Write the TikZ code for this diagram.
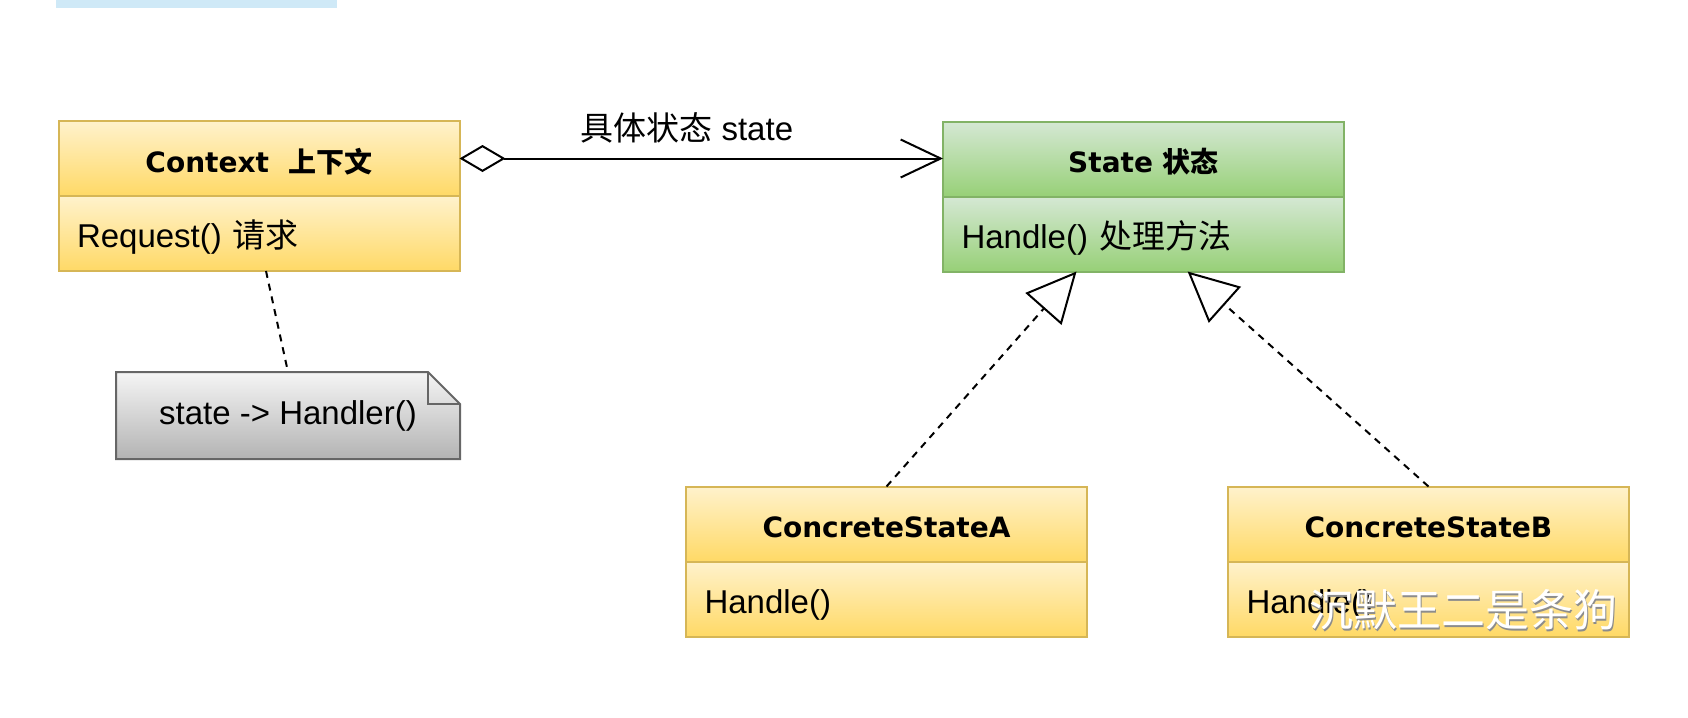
\documentclass[tikz,border=0pt]{standalone}
\usepackage{fontspec}
\setmainfont{Liberation Sans}
\newfontfamily\hdfont{DejaVu Sans}
\newfontfamily\cjkfont{Noto Sans CJK SC}
\newcommand{\zh}[1]{{\cjkfont #1}}
\usetikzlibrary{
  arrows.meta,
  positioning,
  calc,
  backgrounds
}
\definecolor{umlyellowtop}{HTML}{FFF2CC}
\definecolor{umlyellowbot}{HTML}{FFD966}
\definecolor{umlyellowline}{HTML}{D6B656}
\definecolor{umlgreentop}{HTML}{D5E8D4}
\definecolor{umlgreenbot}{HTML}{97D077}
\definecolor{umlgreenline}{HTML}{82B366}
\definecolor{umlgraytop}{HTML}{F5F5F5}
\definecolor{umlgraybot}{HTML}{B3B3B3}
\definecolor{umlgrayline}{HTML}{666666}
\definecolor{topbarblue}{HTML}{CFE9F7}

\begin{document}
\begin{tikzpicture}[
  x=0.5pt, y=-0.5pt,
  classhead/.style={draw, line width=1pt, minimum width=200.5pt, minimum height=37.5pt,
    inner sep=0pt, outer sep=0pt, text height=13.5pt, text depth=0pt,
    font=\hdfont\bfseries\fontsize{14}{16}\selectfont},
  classbody/.style={draw, line width=1pt, minimum height=37.5pt, text width=182pt,
    inner xsep=9.25pt, inner ysep=0pt, outer sep=0pt, align=left,
    text height=15.5pt, text depth=1.5pt, font=\fontsize{16.5}{19}\selectfont},
  yellowbox/.style={draw=umlyellowline, top color=umlyellowtop, bottom color=umlyellowbot},
  greenbox/.style={draw=umlgreenline, top color=umlgreentop, bottom color=umlgreenbot},
  notetext/.style={minimum width=172pt, minimum height=43.5pt, outer sep=0pt,
    font=\fontsize{16.5}{19}\selectfont},
  notebox/.style={draw=umlgrayline, line width=1pt, top color=umlgraytop, bottom color=umlgraybot},
  assoc/.style={line width=1pt,
    {Diamond[open, length=23pt, width=13.5pt]}-{Straight Barb[length=20pt, width=19pt]}},
  realize/.style={line width=1pt, dash pattern=on 3.5pt off 3pt,
    -{Triangle[length=25pt, width=24pt, fill=white]}},
  notelink/.style={line width=1pt, dash pattern=on 3.5pt off 3pt},
  watermark/.style={font=\fontsize{22}{24}\selectfont, inner sep=0pt}
]
  \useasboundingbox (0,0) rectangle (1688,718);
  \fill[topbarblue] (56,0) rectangle (337,8);

  % context
  \node[classhead, yellowbox] (ctx) at (259,158.5) {Context\ \ \zh{上下文}};
  \node[classbody, yellowbox, below=0pt of ctx] (ctxbody) {Request() \zh{请求}};

  % state
  \node[classhead, greenbox] (state) at (1143.5,159) {State \zh{状态}};
  \node[classbody, greenbox, below=0pt of state] (stbody) {Handle() \zh{处理方法}};

  % concrete states
  \node[classhead, yellowbox] (csa) at (886.5,524) {ConcreteStateA};
  \node[classbody, yellowbox, below=0pt of csa] (csabody) {Handle()};
  \node[classhead, yellowbox] (csb) at (1428.5,524) {ConcreteStateB};
  \node[classbody, yellowbox, below=0pt of csb] (csbbody) {Handle()};

  % note
  \node[notetext] (note) at (288,415.5) {state -> Handler()};
  \begin{scope}[on background layer]
    \shadedraw[notebox] (note.south west) |- ([xshift=-16pt]note.north east)
      -- ([yshift=-16pt]note.north east) -- (note.south east) -- cycle;
    \draw[draw=umlgrayline, line width=1pt] ([xshift=-16pt]note.north east)
      -- ++(0,-16pt) -- ++(16pt,0);
  \end{scope}

  \coordinate (inA) at ($(stbody.south west)!0.333!(stbody.south east)$);
  \coordinate (inB) at ($(stbody.south west)!0.61!(stbody.south east)$);

  \draw[assoc] (ctx.east) -- (ctx.east -| state.west)
    node[pos=0.47, above=4pt, font=\fontsize{16.5}{19}\selectfont] {\zh{具体状态} state};
  \draw[notelink] ([xshift=3.5pt]ctxbody.south) -- (note.north);
  \draw[realize] (csa.north) -- (inA);
  \draw[realize] (csb.north) -- (inB);

  \node[watermark, text=black!45] (wmshade) at (1464.5,611.5) {\zh{沉默王二是条狗}};
  \node[watermark, text=white] (wm) at (1463,610) {\zh{沉默王二是条狗}};

\end{tikzpicture}
\end{document}
